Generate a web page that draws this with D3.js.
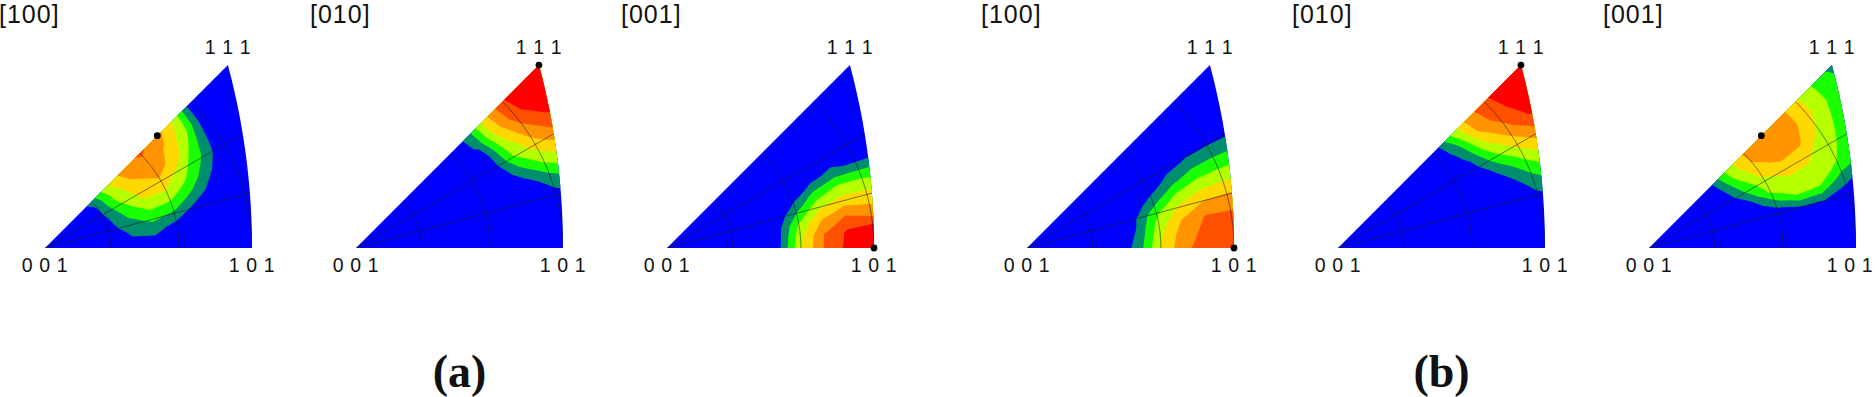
<!DOCTYPE html>
<html>
<head>
<meta charset="utf-8">
<script src="https://cdn.jsdelivr.net/npm/d3@7"></script>
<style>
  body { margin: 0; background: #fff; }
  svg { display: block; }
  text { font-family: "Liberation Sans", Arial, sans-serif; fill: #111; }
</style>
</head>
<body>
<div id="chart"></div>
<script>
// ---- data ----
// density grid: one column per azimuth (deg, from the 001-101 edge), values along polar angle from 001 (deg)
const phiSteps = [0, 5, 10, 15, 20, 25, 30, 35, 40, 45];
const thetaSteps = [0, 5, 10, 15, 20, 25, 30, 35, 40, 45, 50, 55];
const levels = [1, 2, 3, 4, 5, 6, 7];
const bandColors = ["#0000ff", "#008f6c", "#1aff00", "#b4ff00", "#ffd800", "#ff9400", "#ff5000", "#ff0000"];

const panelTitles = ["[100]", "[010]", "[001]", "[100]", "[010]", "[001]"];
const groupLabels = ["(a)", "(b)"];
const cornerLabels = ["0 0 1", "1 0 1", "1 1 1"];
const cornerDirs = [[0, 0, 1], [1, 0, 1], [1, 1, 1]];
const markerDirs = [[1, 1, 2], [1, 1, 1], [1, 0, 1], [1, 0, 1], [1, 1, 1], [1, 1, 2]];
const gridThetas = [15, 30, 45];
const gridPhis = [15, 30];

const densA100 = [
  [0, 0, 0, 0, 0, 0, 0, 0, 0, 0, 0, 0],
  [0, 0, 0, 0, 0.8, 0.8, 0, 0, 0, 0, 0, 0],
  [0, 0, 0, 0, 1.2, 1.5, 0.6, 0, 0, 0, 0, 0],
  [0, 0, 0, 0.5, 1.6, 2.2, 1.8, 0.5, 0, 0, 0, 0],
  [0, 0, 0, 0.6, 2.0, 3.0, 2.9, 1.7, 0.4, 0, 0, 0],
  [0, 0, 0, 0.7, 2.4, 3.8, 3.9, 2.8, 1.1, 0, 0, 0],
  [0, 0, 0, 0.9, 2.9, 4.4, 4.8, 3.5, 1.9, 0, 0, 0],
  [0, 0, 0, 1.0, 3.4, 4.6, 5.5, 4.6, 2.4, 0, 0, 0],
  [0, 0, 0, 1.1, 3.6, 5.2, 5.6, 4.9, 3.3, 0, 0, 0],
  [0, 0, 0, 1.5, 4.0, 5.6, 6.2, 5.5, 3.8, 0, 0, 0]
];
const densA010 = [
  [0, 0, 0, 0, 0, 0, 0, 0, 0, 0, 0, 0],
  [0, 0, 0, 0, 0, 0, 0, 0, 0, 0, 0, 0],
  [0, 0, 0, 0, 0, 0, 0, 0, 0, 0.3, 0.6, 0.8],
  [0, 0, 0, 0, 0, 0, 0, 0, 0, 0.6, 1.2, 1.6],
  [0, 0, 0, 0, 0, 0, 0, 0, 0.4, 1.6, 2.6, 3.2],
  [0, 0, 0, 0, 0, 0, 0, 0, 1.6, 3.2, 4.3, 5.0],
  [0, 0, 0, 0, 0, 0, 0, 0.3, 2.9, 4.5, 5.8, 6.5],
  [0, 0, 0, 0, 0, 0, 0, 0.5, 3.6, 5.6, 6.9, 7.5],
  [0, 0, 0, 0, 0, 0, 0, 1.2, 4.4, 6.6, 7.8, 8.2],
  [0, 0, 0, 0, 0, 0, 0, 1.4, 4.7, 6.9, 8.0, 8.5]
];
const densA001 = [
  [0, 0, 0, 0, 0, 0.6, 3.9, 6.1, 7.3, 8.0, 8.0, 8.0],
  [0, 0, 0, 0, 0, 0.5, 3.7, 6.0, 7.2, 7.8, 7.8, 7.8],
  [0, 0, 0, 0, 0, 0.4, 3.1, 5.1, 6.1, 5.5, 5.0, 5.0],
  [0, 0, 0, 0, 0, 0, 2.0, 3.8, 4.5, 4.4, 4.0, 4.0],
  [0, 0, 0, 0, 0, 0, 0.9, 2.4, 3.1, 2.9, 2.5, 2.5],
  [0, 0, 0, 0, 0, 0, 0.2, 0.8, 1.2, 0.8, 0.6, 0.6],
  [0, 0, 0, 0, 0, 0, 0, 0.3, 0.4, 0.3, 0.2, 0.2],
  [0, 0, 0, 0, 0, 0, 0, 0, 0, 0, 0, 0],
  [0, 0, 0, 0, 0, 0, 0, 0, 0, 0, 0, 0],
  [0, 0, 0, 0, 0, 0, 0, 0, 0, 0, 0, 0]
];
const densB100 = [
  [0, 0, 0, 0, 0, 1.4, 4.0, 5.8, 6.5, 6.7, 6.7, 6.7],
  [0, 0, 0, 0, 0, 1.2, 3.8, 5.6, 6.3, 6.5, 6.5, 6.5],
  [0, 0, 0, 0, 0, 1.0, 3.4, 5.1, 6.1, 6.1, 6.0, 6.0],
  [0, 0, 0, 0, 0, 0.8, 2.8, 4.2, 5.0, 5.1, 5.0, 5.0],
  [0, 0, 0, 0, 0, 0.3, 1.6, 3.0, 3.6, 3.7, 3.5, 3.5],
  [0, 0, 0, 0, 0, 0, 0.6, 1.5, 2.2, 2.3, 2.2, 2.2],
  [0, 0, 0, 0, 0, 0, 0.2, 0.6, 0.9, 0.9, 0.8, 0.8],
  [0, 0, 0, 0, 0, 0, 0, 0, 0.3, 0.3, 0.3, 0.3],
  [0, 0, 0, 0, 0, 0, 0, 0, 0, 0, 0, 0],
  [0, 0, 0, 0, 0, 0, 0, 0, 0, 0, 0, 0]
];
const densB010 = [
  [0, 0, 0, 0, 0, 0, 0, 0, 0, 0, 0, 0],
  [0, 0, 0, 0, 0, 0, 0, 0, 0, 0, 0, 0],
  [0, 0, 0, 0, 0, 0, 0, 0, 0, 0.3, 0.6, 0.8],
  [0, 0, 0, 0, 0, 0, 0, 0, 0.1, 0.8, 1.4, 1.8],
  [0, 0, 0, 0, 0, 0, 0, 0, 0.4, 1.7, 2.8, 3.3],
  [0, 0, 0, 0, 0, 0, 0, 0, 1.3, 2.9, 4.2, 5.0],
  [0, 0, 0, 0, 0, 0, 0, 0.6, 2.6, 4.3, 5.6, 6.3],
  [0, 0, 0, 0, 0, 0, 0, 1.2, 3.9, 5.6, 7.0, 7.5],
  [0, 0, 0, 0, 0, 0, 0, 1.9, 5.0, 6.5, 7.5, 8.0],
  [0, 0, 0, 0, 0, 0, 0, 2.9, 5.4, 6.8, 7.8, 8.3]
];
const densB001 = [
  [0, 0, 0, 0, 0, 0, 0, 0, 0, 0, 0, 0],
  [0, 0, 0, 0, 0, 0, 0, 0, 0, 0, 0, 0],
  [0, 0, 0, 0, 0, 0, 0, 0, 0, 0, 0, 0],
  [0, 0, 0, 0, 0, 0, 0.3, 0.9, 0.9, 0.3, 0, 0],
  [0, 0, 0, 0, 0, 0.3, 1.7, 3.1, 3.0, 1.5, 0.5, 0.5],
  [0, 0, 0, 0, 0, 1.0, 3.2, 3.7, 3.7, 3.0, 2.3, 2.3],
  [0, 0, 0, 0, 0, 2.0, 3.7, 4.4, 4.2, 3.3, 2.5, 2.5],
  [0, 0, 0, 0, 0.3, 2.6, 4.5, 5.3, 5.2, 3.8, 2.6, 2.0],
  [0, 0, 0, 0, 0.6, 3.2, 5.0, 5.5, 5.6, 4.3, 2.9, 2.2],
  [0, 0, 0, 0, 0.9, 3.5, 5.2, 5.7, 5.6, 4.2, 2.8, 1.5]
];
const panels = [densA100, densA010, densA001, densB100, densB010, densB001];

// ---- layout ----
const W = 1875, H = 397;
const baseY = 248, span = 207;
const R = span / Math.tan(Math.PI / 8);
const left0 = 45, panelStep = 311, groupStep = 982;
const toRad = Math.PI / 180;

const svg = d3.select("#chart").append("svg")
  .attr("width", W).attr("height", H)
  .style("background", "#fff");

const nx = phiSteps.length, ny = thetaSteps.length;
// grid units of d3.contours -> angles
const phiScale = d3.scaleLinear().domain([0.5, nx - 0.5]).range([phiSteps[0], phiSteps[nx - 1]]);
const thetaScale = d3.scaleLinear().domain([0.5, ny - 0.5]).range([thetaSteps[0], thetaSteps[ny - 1]]);

// stereographic projection, 001 at the origin
function fromAngles(phi, theta) {
  const t = Math.tan(Math.max(theta, 0) * toRad / 2);
  return [t * Math.cos(phi * toRad), t * Math.sin(phi * toRad)];
}
function fromDir(d) {
  const n = Math.hypot(d[0], d[1], d[2]);
  return [d[0] / n / (1 + d[2] / n), d[1] / n / (1 + d[2] / n)];
}
function densify(ring) {
  const out = [];
  for (let k = 0; k < ring.length - 1; ++k) {
    const a = ring[k], b = ring[k + 1];
    for (let s = 0; s < 4; ++s) out.push([a[0] + (b[0] - a[0]) * s / 4, a[1] + (b[1] - a[1]) * s / 4]);
  }
  out.push(ring[ring.length - 1]);
  return out;
}

const line = d3.line();

panels.forEach((dens, i) => {
  const x0 = left0 + (i % 3) * panelStep + Math.floor(i / 3) * groupStep;
  const x = d3.scaleLinear().domain([0, 1]).range([x0, x0 + R]);
  const y = d3.scaleLinear().domain([0, 1]).range([baseY, baseY - R]);
  const pt = p => [x(p[0]), y(p[1])];

  const g = svg.append("g");

  // standard triangle: 001 -> 101 -> (great circle) -> 111 -> 001
  const tri = [fromDir(cornerDirs[0])];
  d3.range(0, 1.0001, 1 / 40).forEach(t => tri.push(fromDir([1, t, 1])));
  const triPath = line(tri.map(pt)) + "Z";
  svg.append("clipPath").attr("id", "clip" + i).append("path").attr("d", triPath);

  g.append("path").attr("d", triPath).attr("fill", bandColors[0]);

  // contour bands
  const vals = new Array(nx * ny);
  dens.forEach((col, a) => col.forEach((v, b) => { vals[b * nx + a] = v; }));
  const bands = d3.contours().size([nx, ny]).thresholds(levels)(vals);

  const cg = g.append("g").attr("clip-path", "url(#clip" + i + ")");
  cg.selectAll("path.band")
    .data(bands)
    .join("path")
    .attr("class", "band")
    .attr("fill", d => bandColors[levels.indexOf(d.value) + 1])
    .attr("fill-rule", "evenodd")
    .attr("d", d => d.coordinates.map(poly => poly.map(ring =>
      line(densify(ring).map(c => pt(fromAngles(phiScale(c[0]), thetaScale(c[1]))))) + "Z"
    ).join("")).join(""));

  // grid: circles of constant polar angle and lines of constant azimuth
  gridThetas.forEach(th => {
    cg.append("path")
      .attr("d", line(d3.range(0, 45.01, 0.5).map(ph => pt(fromAngles(ph, th)))))
      .attr("fill", "none").attr("stroke", "#1a1a1a").attr("stroke-width", 0.7).attr("stroke-opacity", 0.8);
  });
  gridPhis.forEach(ph => {
    const thMax = Math.atan(1 / Math.cos(ph * toRad)) / toRad;
    cg.append("path")
      .attr("d", line([pt(fromAngles(ph, 0)), pt(fromAngles(ph, thMax + 1))]))
      .attr("fill", "none").attr("stroke", "#1a1a1a").attr("stroke-width", 0.7).attr("stroke-opacity", 0.8);
  });

  // marker
  const m = pt(fromDir(markerDirs[i]));
  g.append("circle").attr("cx", m[0]).attr("cy", m[1]).attr("r", 3.4).attr("fill", "#000");

  // corner labels
  const c0 = pt(fromDir(cornerDirs[0])), c1 = pt(fromDir(cornerDirs[1])), c2 = pt(fromDir(cornerDirs[2]));
  [[c0[0], 272], [Math.min(c1[0], W - 25), 272], [c2[0], c2[1] - 11]].forEach((p, k) => {
    g.append("text")
      .attr("x", p[0]).attr("y", p[1])
      .attr("text-anchor", "middle")
      .style("font-size", "19.5px")
      .style("letter-spacing", "0.6px")
      .text(cornerLabels[k]);
  });

  // title
  g.append("text")
    .attr("x", x0 - 46).attr("y", 23)
    .style("font-size", "25px")
    .style("letter-spacing", "1px")
    .text(panelTitles[i]);
});

// group labels
groupLabels.forEach((lab, k) => {
  svg.append("text")
    .attr("x", left0 + k * groupStep + (2 * panelStep + span) / 2)
    .attr("y", 387)
    .attr("text-anchor", "middle")
    .style("font-family", "'Liberation Serif', 'Times New Roman', serif")
    .style("font-weight", "bold")
    .style("font-size", "46px")
    .text(lab);
});
</script>
</body>
</html>
